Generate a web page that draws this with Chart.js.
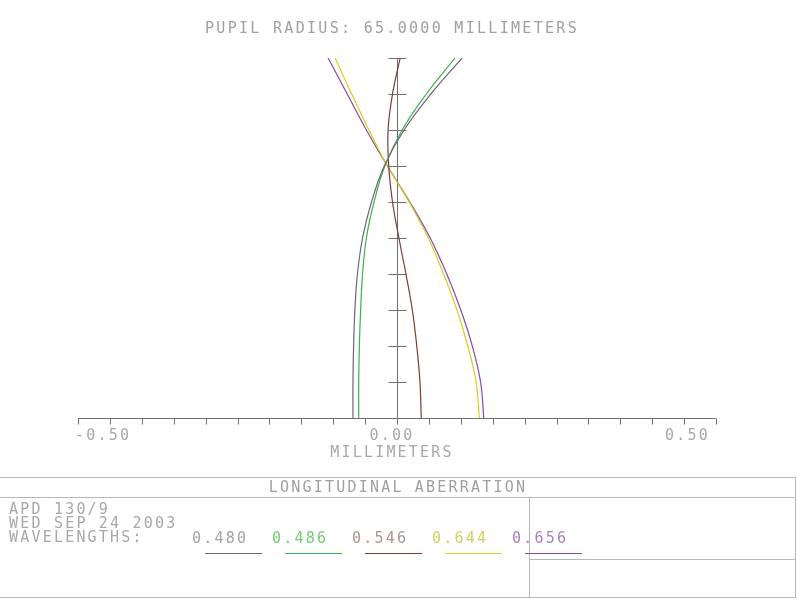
<!DOCTYPE html>
<html>
<head>
<meta charset="utf-8">
<script src="https://cdn.jsdelivr.net/npm/chart.js@4.4.0/dist/chart.umd.min.js"></script>
<style>
  html, body { margin: 0; padding: 0; background: #fff; }
  #wrap { width: 797px; height: 600px; position: relative; }
</style>
</head>
<body>
<div id="wrap"><canvas id="chart" width="797" height="600"></canvas></div>
<script>
// relative pupil height (0 = axis, 1 = edge of pupil)
const pupil = [0, 0.1, 0.2, 0.3, 0.4, 0.5, 0.6, 0.7, 0.8, 0.9, 1.0];

// longitudinal aberration in millimeters, one list per wavelength
const w480 = [-0.069, -0.069, -0.068, -0.066, -0.062, -0.054, -0.040, -0.020, 0.011, 0.053, 0.102];
const w486 = [-0.060, -0.060, -0.059, -0.057, -0.054, -0.048, -0.036, -0.019, 0.008, 0.046, 0.091];
const w546 = [0.038, 0.036, 0.031, 0.024, 0.014, 0.003, -0.007, -0.013, -0.014, -0.007, 0.005];
const w644 = [0.129, 0.124, 0.111, 0.094, 0.073, 0.049, 0.019, -0.015, -0.044, -0.071, -0.097];
const w656 = [0.136, 0.131, 0.118, 0.100, 0.078, 0.052, 0.020, -0.015, -0.048, -0.078, -0.108];

const waveLabels = ["0.480", "0.486", "0.546", "0.644", "0.656"];
const xTickLabels = ["-0.50", "0.00", "0.50"];

const lineColors = ["#6e6478", "#3cb34a", "#7a3c3c", "#d2d21e", "#8a48a8"];
const textColors = ["#a4a4a4", "#74cc74", "#b09494", "#d2d260", "#a880c6"];

const FONT = "15px 'DejaVu Sans Mono', monospace";
const GREY = "#a0a0a0";

function series(vals) {
    return vals.map((v, i) => ({ x: v, y: pupil[i] }));
}

function txt(ctx, s, x, y, align, color, spacing) {
    ctx.save();
    ctx.font = FONT;
    ctx.letterSpacing = (spacing || 2.2) + "px";
    ctx.fillStyle = color || GREY;
    ctx.textAlign = align || "left";
    ctx.textBaseline = "middle";
    ctx.fillText(s, x, y);
    ctx.restore();
}

function seg(ctx, x1, y1, x2, y2) {
    ctx.beginPath();
    ctx.moveTo(x1, y1);
    ctx.lineTo(x2, y2);
    ctx.stroke();
}

// axes, ticks and the frame below the plot
const frame = {
    id: "frame",
    beforeDatasetsDraw(chart) {
        const ctx = chart.ctx;
        const xs = chart.scales.x, ys = chart.scales.y;
        const x0 = Math.round(xs.getPixelForValue(0)) + 0.5;
        const yb = Math.round(ys.getPixelForValue(0)) + 0.5;
        ctx.save();
        ctx.strokeStyle = "#707070";
        ctx.lineWidth = 1;
        // x axis
        seg(ctx, xs.getPixelForValue(-0.5), yb, xs.getPixelForValue(0.5), yb);
        for (let i = 0; i <= 20; i++) {
            const px = Math.round(xs.getPixelForValue(-0.5 + i * 0.05)) + 0.5;
            seg(ctx, px, yb, px, yb + 6);
        }
        // y axis
        seg(ctx, x0, yb, x0, ys.getPixelForValue(1));
        for (let i = 1; i <= 10; i++) {
            const py = Math.round(ys.getPixelForValue(i / 10)) + 0.5;
            seg(ctx, x0 - 9, py, x0 + 9, py);
        }
        ctx.restore();
    },
    afterDraw(chart) {
        const ctx = chart.ctx;
        const xs = chart.scales.x, ys = chart.scales.y;
        const yb = ys.getPixelForValue(0);

        txt(ctx, "PUPIL RADIUS: 65.0000 MILLIMETERS", 392, 29, "center", GREY, 2.3);

        txt(ctx, xTickLabels[0], xs.getPixelForValue(-0.5) - 3, yb + 18, "left", "#a8a8a8");
        txt(ctx, xTickLabels[1], xs.getPixelForValue(0) - 5, yb + 18, "center", "#a8a8a8");
        txt(ctx, xTickLabels[2], xs.getPixelForValue(0.5) - 6, yb + 18, "right", "#a8a8a8");
        txt(ctx, "MILLIMETERS", 392, yb + 35, "center", "#a8a8a8");

        // bottom box
        ctx.save();
        ctx.strokeStyle = "#b8b8b8";
        ctx.lineWidth = 1;
        seg(ctx, 0, 477.5, 796, 477.5);
        seg(ctx, 0, 497.5, 796, 497.5);
        seg(ctx, 0, 597.5, 796, 597.5);
        seg(ctx, 795.5, 477, 795.5, 598);
        seg(ctx, 529.5, 497, 529.5, 598);
        seg(ctx, 529, 559.5, 796, 559.5);
        ctx.restore();

        txt(ctx, "LONGITUDINAL ABERRATION", 398, 488, "center", GREY);
        txt(ctx, "APD 130/9", 9, 510, "left", "#a8a8a8");
        txt(ctx, "WED SEP 24 2003", 9, 524, "left", "#a8a8a8");
        txt(ctx, "WAVELENGTHS:", 9, 538, "left", "#a8a8a8");

        // wavelength legend with underlines
        chart.data.datasets.forEach((ds, i) => {
            const lx = 192 + i * 80;
            txt(ctx, ds.label, lx, 539, "left", textColors[i]);
            ctx.save();
            ctx.strokeStyle = ds.borderColor;
            ctx.lineWidth = 1.2;
            seg(ctx, lx + 13, 553.5, lx + 70, 553.5);
            ctx.restore();
        });
    }
};

const allSeries = [w480, w486, w546, w644, w656];

new Chart(document.getElementById("chart"), {
    type: "line",
    data: {
        datasets: allSeries.map((vals, i) => ({
            label: waveLabels[i],
            data: series(vals),
            borderColor: lineColors[i],
            borderWidth: 1.2,
            pointRadius: 0,
            tension: 0.4,
            fill: false
        }))
    },
    options: {
        indexAxis: "y",
        responsive: false,
        animation: false,
        layout: { padding: { left: 78, right: 81, top: 58, bottom: 182 } },
        plugins: {
            legend: { display: false },
            tooltip: { enabled: false },
            title: { display: false }
        },
        scales: {
            x: { type: "linear", min: -0.5, max: 0.5, display: false },
            y: { type: "linear", min: 0, max: 1, display: false }
        }
    },
    plugins: [frame]
});
</script>
</body>
</html>
